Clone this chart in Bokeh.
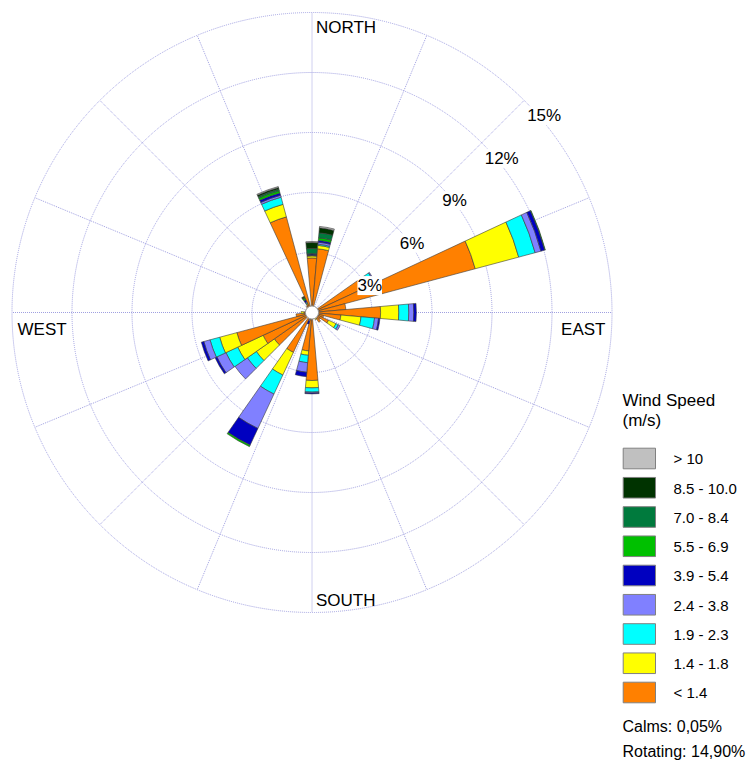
import math
from bokeh.plotting import figure
from bokeh.models import Range1d, ColumnDataSource, LabelSet
from bokeh.core.properties import value
from bokeh.embed import file_html
from bokeh.resources import INLINE

# ---------------- data ----------------
directions = list(range(0, 360, 10))  # bearing of each 10-degree sector
speed_labels = ["< 1.4", "1.4 - 1.8", "1.9 - 2.3", "2.4 - 3.8", "3.9 - 5.4",
                "5.5 - 6.9", "7.0 - 8.4", "8.5 - 10.0", "> 10"]
speed_colors = ["#FF8000", "#FFFF00", "#00FFFF", "#8080FF", "#0000C0",
                "#00C000", "#007A3D", "#003300", "#C0C0C0"]

# frequency (%) per direction for each speed class
f_lt_1_4 = [2.73, 3.20, 0, 0, 0.30, 0, 2.90, 8.45, 1.70, 3.43, 1.45, 0.60,
            0.91, 0.50, 0.60, 0.30, 0.30, 0.30, 3.40, 1.93, 0.25, 2.20, 0, 2.30,
            2.70, 3.89, 0.80, 0.40, 0.30, 0.30, 0.30, 0.30, 0.40, 0.45, 4.95, 0]
f_1_4_1_8 = [0.10, 0.17, 0, 0, 0, 0, 0.30, 2.25, 0, 0.91, 1.01, 0,
             0.41, 0, 0, 0.10, 0, 0, 0.37, 0.22, 0.05, 1.25, 0, 1.10,
             1.40, 0.89, 0, 0.15, 0, 0, 0, 0, 0, 0.05, 0.65, 0]
f_1_9_2_3 = [0.02, 0.06, 0, 0, 0, 0, 0.25, 0.85, 0, 0.50, 0.68, 0,
             0.13, 0, 0, 0, 0, 0, 0.21, 0.37, 0.05, 1.05, 0, 0.55,
             0.65, 0.50, 0, 0, 0, 0, 0, 0, 0, 0.05, 0.37, 0]
f_2_4_3_8 = [0.02, 0.10, 0, 0, 0, 0, 0.05, 0.30, 0, 0.25, 0.20, 0,
             0.10, 0, 0, 0, 0, 0, 0.05, 0.48, 0.10, 1.90, 0, 0.75,
             0.50, 0.32, 0, 0, 0, 0, 0, 0, 0, 0.05, 0.10, 0]
f_3_9_5_4 = [0.05, 0.09, 0, 0, 0, 0, 0, 0.20, 0, 0.13, 0.07, 0,
             0, 0, 0, 0, 0, 0, 0.04, 0.22, 0.15, 0.92, 0, 0,
             0.10, 0.13, 0, 0, 0, 0, 0, 0, 0, 0.10, 0.12, 0]
f_5_5_6_9 = [0.03, 0.13, 0, 0, 0, 0, 0, 0.03, 0, 0, 0, 0,
             0, 0, 0, 0, 0, 0, 0, 0, 0, 0.08, 0, 0,
             0, 0, 0, 0, 0, 0, 0, 0, 0, 0.10, 0.12, 0]
f_7_0_8_4 = [0.25, 0.25, 0, 0, 0, 0, 0, 0, 0, 0, 0, 0,
             0, 0, 0, 0, 0, 0, 0, 0, 0, 0, 0, 0,
             0, 0, 0, 0, 0, 0, 0, 0, 0, 0.05, 0.08, 0]
f_8_5_10 = [0.30, 0.25, 0, 0, 0, 0, 0, 0, 0, 0, 0, 0,
            0, 0, 0, 0, 0, 0, 0, 0, 0, 0, 0, 0,
            0, 0, 0, 0, 0, 0, 0, 0, 0, 0.05, 0.08, 0]
f_gt_10 = [0.05, 0.07, 0, 0, 0, 0, 0, 0, 0, 0, 0, 0,
           0, 0, 0, 0, 0, 0, 0, 0, 0, 0, 0, 0,
           0, 0, 0, 0, 0, 0, 0, 0, 0, 0, 0.05, 0]
speed_series = [f_lt_1_4, f_1_4_1_8, f_1_9_2_3, f_2_4_3_8, f_3_9_5_4,
                f_5_5_6_9, f_7_0_8_4, f_8_5_10, f_gt_10]

ring_values = [3, 6, 9, 12, 15]
ring_texts = ["3%", "6%", "9%", "12%", "15%"]
spoke_bearings = [i * 22.5 for i in range(16)]
compass_texts = ["NORTH", "EAST", "SOUTH", "WEST"]
calms_text = "Calms: 0,05%"
rotating_text = "Rotating: 14,90%"

# ---------------- layout helpers ----------------
PX = 20.0              # pixels per percent
CX, CY = 311.5, 312.0  # centre of the rose in page pixels
OX, OY = 0, 0          # page position of the canvas
W, H = 746, 762
FONT = value("Liberation Sans")
TDY = 5.0              # glyph text sits a little low: lift it (px)


def X(px):
    return (px - CX) / PX


def Y(py):
    return (CY - py) / PX


def TY(py):
    return Y(py - TDY)


p = figure(width=W, height=H, output_backend="svg", toolbar_location=None,
           x_range=Range1d(X(OX), X(OX + W)), y_range=Range1d(Y(OY + H), Y(OY)),
           x_axis_location=None, y_axis_location=None,
           min_border=0, min_border_left=0, min_border_right=0,
           min_border_top=0, min_border_bottom=0)
p.grid.visible = False
p.outline_line_color = None
p.background_fill_color = "white"

grid_color = "#A0A0E0"
rmax = ring_values[-1]

# spokes
p.segment(x0=[0] * len(spoke_bearings), y0=[0] * len(spoke_bearings),
          x1=[rmax * math.sin(math.radians(b)) for b in spoke_bearings],
          y1=[rmax * math.cos(math.radians(b)) for b in spoke_bearings],
          line_color=grid_color, line_width=1, line_dash="1 1")
# rings
p.circle(x=[0] * len(ring_values), y=[0] * len(ring_values), radius=ring_values,
         fill_color=None, line_color=grid_color, line_width=1, line_dash="1 1")

# petals
half = 5.0
inner, outer, start, end, fill = [], [], [], [], []
for i, b in enumerate(directions):
    cum = 0.0
    for k, series in enumerate(speed_series):
        v = series[i]
        if v > 0:
            inner.append(cum)
            outer.append(cum + v)
            start.append(math.radians(90 - b - half))
            end.append(math.radians(90 - b + half))
            fill.append(speed_colors[k])
            cum += v
src = ColumnDataSource(dict(x=[0] * len(inner), y=[0] * len(inner), inner=inner,
                            outer=outer, start=start, end=end, color=fill))
p.annular_wedge(x="x", y="y", inner_radius="inner", outer_radius="outer",
                start_angle="start", end_angle="end", fill_color="color",
                line_color="#3A3A3A", line_width=0.6, source=src)

# centre hole
p.circle(x=[0], y=[0], radius=0.33, fill_color="white", line_color="#909090",
         line_width=1)

# ring labels (along 45 degrees, with white background)
c45 = math.cos(math.radians(45))
ring_src = ColumnDataSource(dict(
    x=[r * c45 + 3 / PX for r in ring_values],
    y=[r * c45 - 21 / PX for r in ring_values],
    t=ring_texts))
p.add_layout(LabelSet(x="x", y="y", text="t", source=ring_src,
                      text_font=FONT, text_font_size=value("17px"),
                      text_color="black", text_baseline="alphabetic",
                      text_align="left", background_fill_color="white"))

# compass labels
p.text(x=[4 / PX], y=[rmax - (20 - TDY) / PX], text=[compass_texts[0]], text_font=FONT,
       text_font_size=value("17px"), text_align="left", text_baseline="alphabetic")
p.text(x=[rmax - 6.5 / PX], y=[-(22 - TDY) / PX], text=[compass_texts[1]], text_font=FONT,
       text_font_size=value("17px"), text_align="right", text_baseline="alphabetic")
p.text(x=[4 / PX], y=[-rmax + (7 + TDY) / PX], text=[compass_texts[2]], text_font=FONT,
       text_font_size=value("17px"), text_align="left", text_baseline="alphabetic")
p.text(x=[-rmax + 5.5 / PX], y=[-(22 - TDY) / PX], text=[compass_texts[3]], text_font=FONT,
       text_font_size=value("17px"), text_align="left", text_baseline="alphabetic")

# legend
lx0, lbw, lbh = 622.7, 32.3, 20.6
ly0, lstep = 447.7, 29.25
order = list(range(len(speed_labels)))[::-1]
p.rect(x=[X(lx0 + lbw / 2)] * len(order),
       y=[Y(ly0 + j * lstep + lbh / 2) for j in range(len(order))],
       width=lbw / PX, height=lbh / PX,
       fill_color=[speed_colors[k] for k in order], line_color="#808080", line_width=1)
p.text(x=[X(673)] * len(order),
       y=[TY(ly0 + j * lstep + lbh / 2 + 5.3) for j in range(len(order))],
       text=[speed_labels[k] for k in order], text_font=FONT,
       text_font_size=value("15px"), text_align="left", text_baseline="alphabetic")
p.text(x=[X(622), X(622)], y=[TY(405), TY(424.5)], text=["Wind Speed", "(m/s)"],
       text_font=FONT, text_font_size=value("17px"), text_align="left",
       text_baseline="alphabetic")
p.text(x=[X(622), X(622)], y=[TY(731), TY(755.5)], text=[calms_text, rotating_text],
       text_font=FONT, text_font_size=value("16px"), text_align="left",
       text_baseline="alphabetic")

open("out.html", "w").write(file_html(p, INLINE))
